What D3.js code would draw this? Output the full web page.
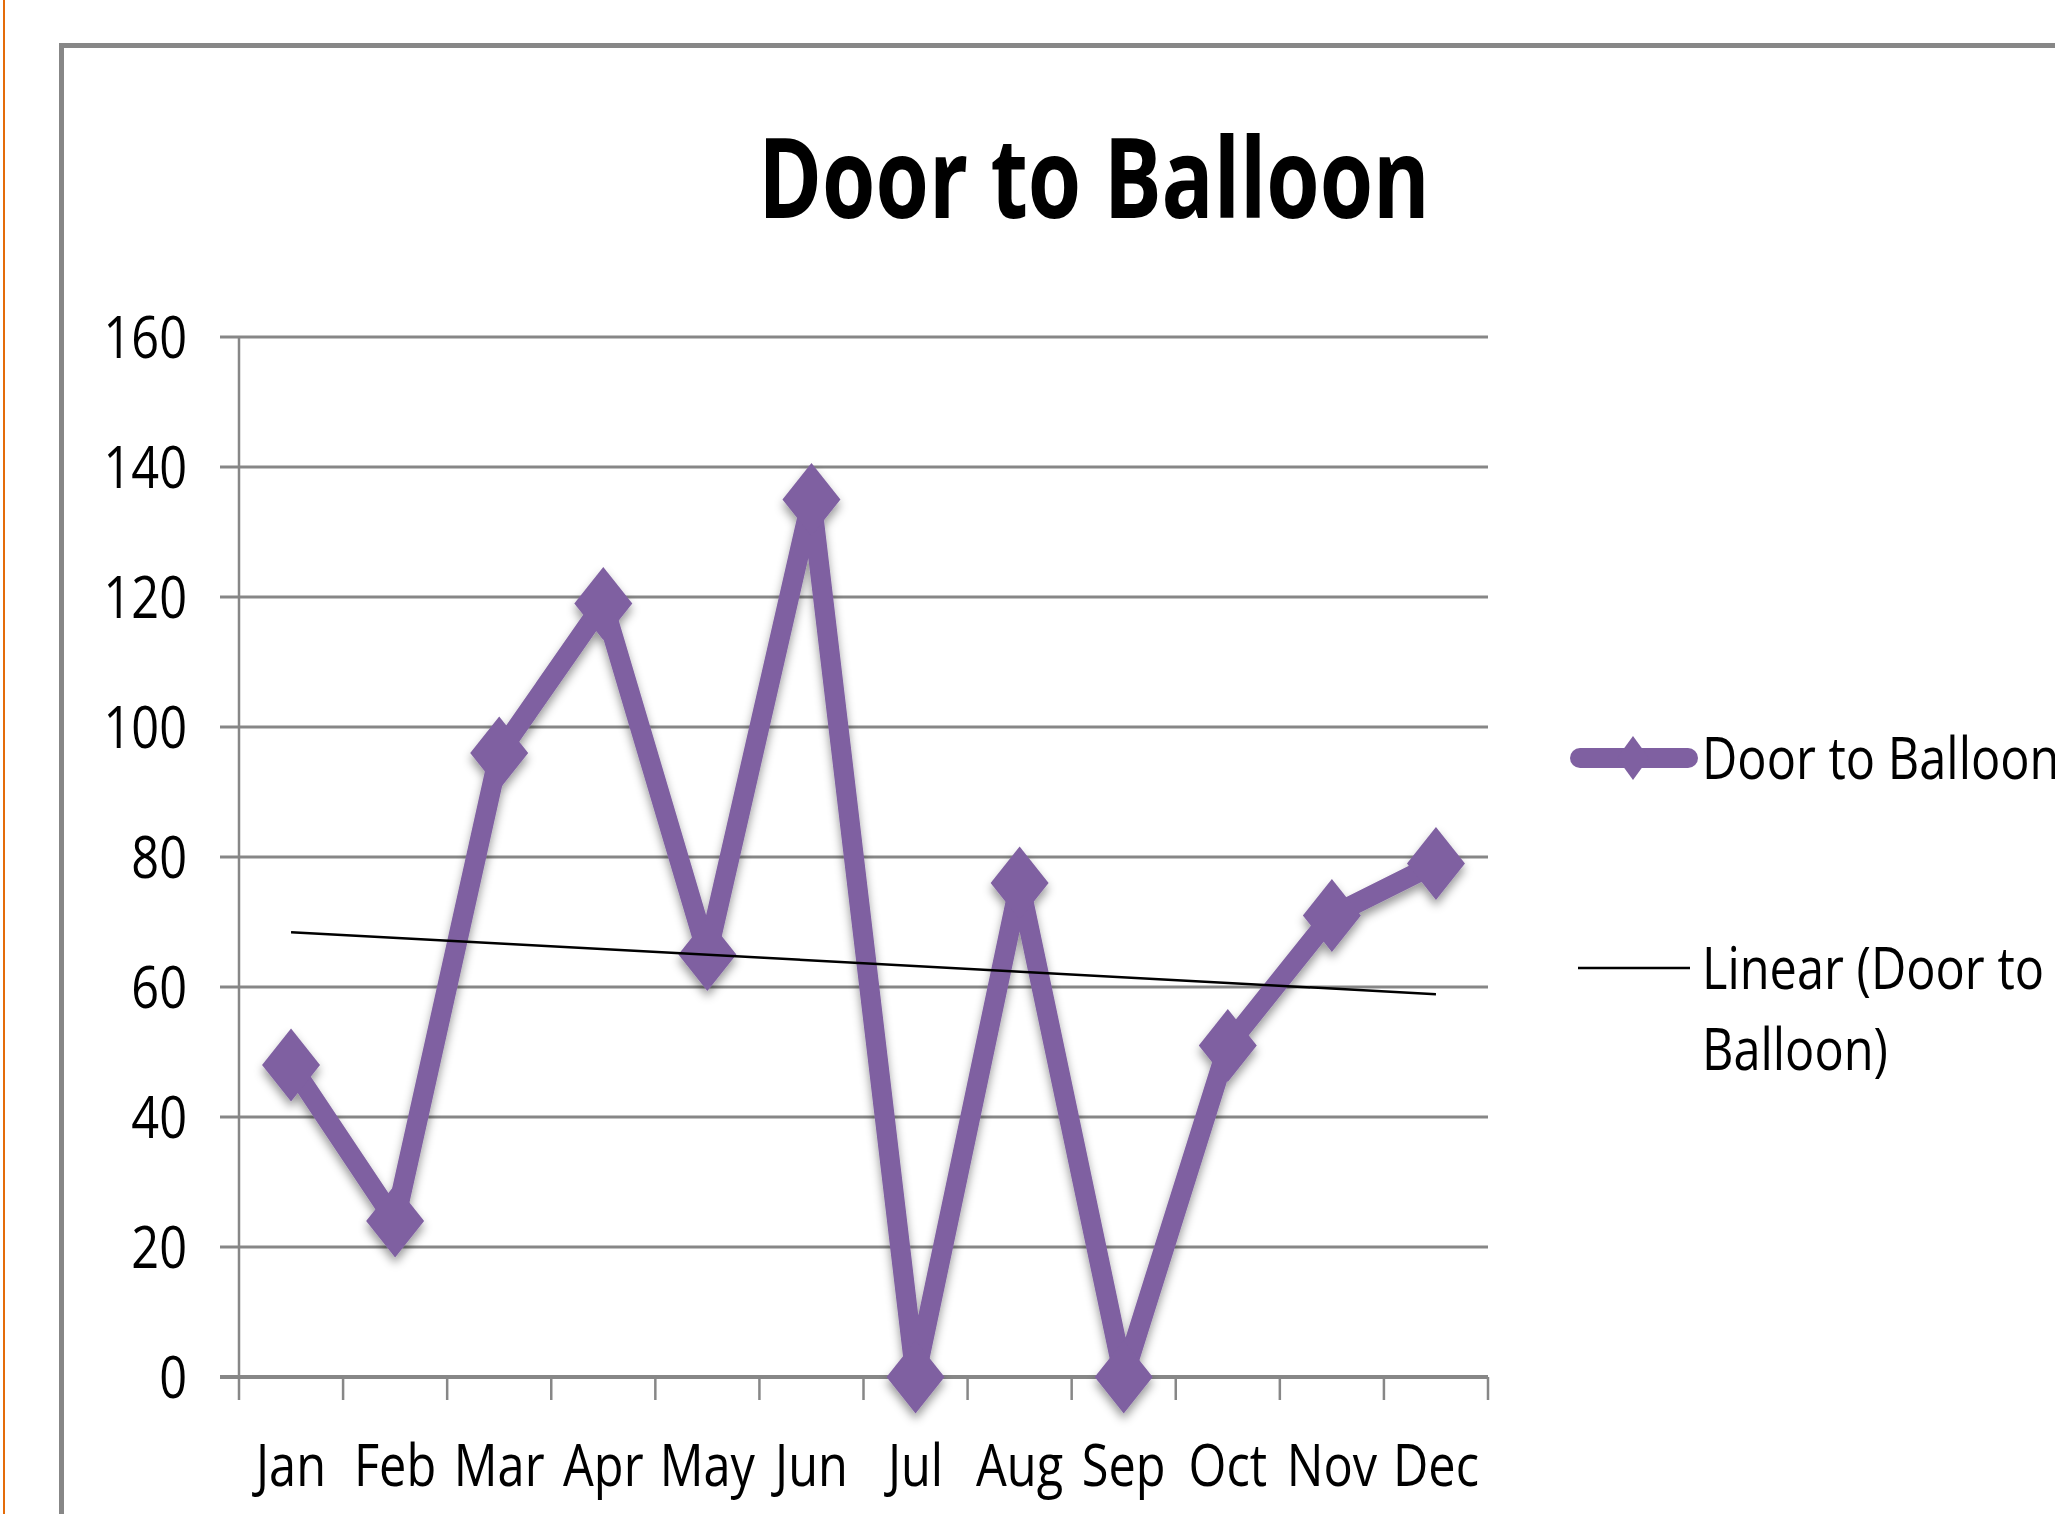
<!DOCTYPE html>
<html>
<head>
<meta charset="utf-8">
<script src="https://cdn.jsdelivr.net/npm/d3@7"></script>
<style>
  html, body { margin: 0; padding: 0; background: #fff; overflow: hidden; }
  svg text { font-family: "Open Sans", sans-serif; fill: #000; }
</style>
</head>
<body>
<div id="chart"></div>
<script>
// chart data
const months = ["Jan", "Feb", "Mar", "Apr", "May", "Jun", "Jul", "Aug", "Sep", "Oct", "Nov", "Dec"];
const doorToBalloon = [48, 24, 96, 119, 65, 135, 0, 76, 0, 51, 71, 79];
const yTicks = [0, 20, 40, 60, 80, 100, 120, 140, 160];
const chartTitle = "Door to Balloon";
const seriesName = "Door to Balloon";
const trendLines = ["Linear (Door to", "Balloon)"];

const W = 2055, H = 1514;
const purple = "#7f60a1", grid = "#878787";
const squeeze = 0.84; // glyphs in the picture are narrow and tall

const svg = d3.select("#chart").append("svg")
    .attr("width", W)
    .attr("height", H);

// soft drop shadow under the series
const defs = svg.append("defs");
defs.append("filter")
    .attr("id", "shadow")
    .attr("x", "-20%").attr("y", "-20%")
    .attr("width", "140%").attr("height", "140%")
    .append("feDropShadow")
    .attr("dx", 0).attr("dy", 6)
    .attr("stdDeviation", 5)
    .attr("flood-color", "#000")
    .attr("flood-opacity", 0.4);

// orange page edge and grey chart frame
svg.append("line")
    .attr("x1", 4).attr("x2", 4).attr("y1", 0).attr("y2", H)
    .attr("stroke", "#e46c0a").attr("stroke-width", 2);
svg.append("rect")
    .attr("x", 61.5).attr("y", 45.5)
    .attr("width", W).attr("height", H)
    .attr("fill", "none")
    .attr("stroke", grid).attr("stroke-width", 5);

// title
svg.append("text")
    .text(chartTitle)
    .attr("transform", `translate(1094,218) scale(0.77,1)`)
    .attr("text-anchor", "middle")
    .attr("font-weight", "bold")
    .attr("font-size", 112);

// scales
const x = d3.scaleBand().domain(months).range([239, 1488]);
const y = d3.scaleLinear().domain([0, 160]).range([1377, 337]);
const cx = d => x(d) + x.bandwidth() / 2;

// horizontal gridlines
svg.append("g")
    .selectAll("line")
    .data(yTicks)
    .join("line")
    .attr("x1", 220).attr("x2", 1488)
    .attr("y1", d => y(d)).attr("y2", d => y(d))
    .attr("stroke", grid)
    .attr("stroke-width", d => d === 0 ? 4 : 3);

// y axis line
svg.append("line")
    .attr("x1", 239).attr("x2", 239)
    .attr("y1", y(160)).attr("y2", y(0))
    .attr("stroke", grid).attr("stroke-width", 2.5);

// y tick labels
svg.append("g")
    .selectAll("text")
    .data(yTicks)
    .join("text")
    .text(d => d)
    .attr("transform", d => `translate(187,${y(d) + 21}) scale(${squeeze},1)`)
    .attr("text-anchor", "end")
    .attr("font-size", 58);

// x tick marks on band edges
const edges = months.map(m => x(m)).concat([x.range()[1]]);
svg.append("g")
    .selectAll("line")
    .data(edges)
    .join("line")
    .attr("x1", d => d).attr("x2", d => d)
    .attr("y1", y(0)).attr("y2", y(0) + 23)
    .attr("stroke", grid).attr("stroke-width", 2.5);

// x labels
svg.append("g")
    .selectAll("text")
    .data(months)
    .join("text")
    .text(d => d)
    .attr("transform", d => `translate(${cx(d)},1486) scale(${squeeze},1)`)
    .attr("text-anchor", "middle")
    .attr("font-size", 58);

// linear trend line (least squares over the series)
const idx = doorToBalloon.map((v, i) => i + 1);
const mx = d3.mean(idx), my = d3.mean(doorToBalloon);
const slope = d3.sum(idx, (k, i) => (k - mx) * (doorToBalloon[i] - my)) /
    d3.sum(idx, k => (k - mx) * (k - mx));
const trend = k => my + slope * (k - mx);

// series line and diamonds
const diamond = (w, h) => `M0,${-h / 2}L${w / 2},0L0,${h / 2}L${-w / 2},0Z`;
const series = svg.append("g").attr("filter", "url(#shadow)");
series.append("path")
    .datum(doorToBalloon)
    .attr("d", d3.line().x((d, i) => cx(months[i])).y(d => y(d)))
    .attr("fill", "none")
    .attr("stroke", purple)
    .attr("stroke-width", 20)
    .attr("stroke-linejoin", "round");
series.selectAll(".mark")
    .data(doorToBalloon)
    .join("path")
    .attr("class", "mark")
    .attr("d", diamond(58, 73))
    .attr("transform", (d, i) => `translate(${cx(months[i])},${y(d)})`)
    .attr("fill", purple);

svg.append("line")
    .attr("x1", cx(months[0])).attr("x2", cx(months[11]))
    .attr("y1", y(trend(1))).attr("y2", y(trend(12)))
    .attr("stroke", "#000").attr("stroke-width", 2.5);

// legend
const leg = svg.append("g");
leg.append("line")
    .attr("x1", 1580).attr("x2", 1688)
    .attr("y1", 758).attr("y2", 758)
    .attr("stroke", purple).attr("stroke-width", 20)
    .attr("stroke-linecap", "round");
leg.append("path")
    .attr("d", diamond(32, 44))
    .attr("transform", "translate(1633,758)")
    .attr("fill", purple);
leg.append("text")
    .text(seriesName)
    .attr("transform", `translate(1702,779) scale(${squeeze},1)`)
    .attr("font-size", 58);
leg.append("line")
    .attr("x1", 1578).attr("x2", 1690)
    .attr("y1", 968).attr("y2", 968)
    .attr("stroke", "#000").attr("stroke-width", 2.5);
leg.selectAll(".trendlab")
    .data(trendLines)
    .join("text")
    .attr("class", "trendlab")
    .text(d => d)
    .attr("transform", (d, i) => `translate(1702,${989 + i * 81}) scale(${squeeze},1)`)
    .attr("font-size", 58);
</script>
</body>
</html>
